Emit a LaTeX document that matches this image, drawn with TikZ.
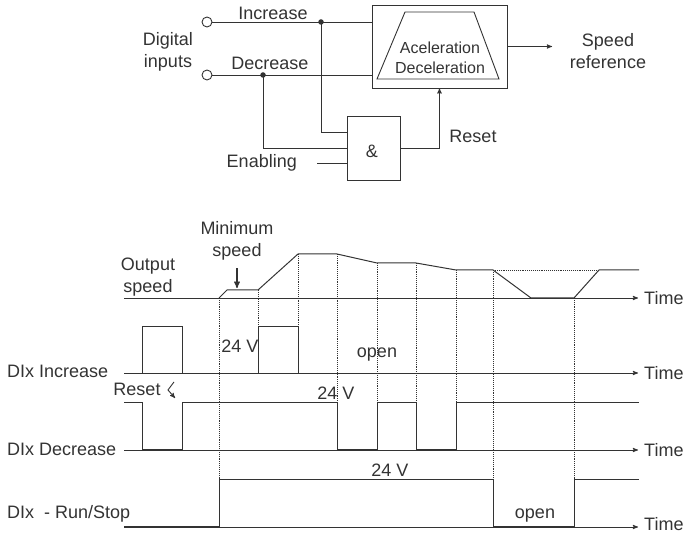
\documentclass[tikz,border=0pt]{standalone}
\usepackage{fontspec}
\setmainfont{Liberation Sans}
\usepackage{xcolor}
\usepackage{tikz}
\usetikzlibrary{arrows}
\usetikzlibrary{shapes.geometric}
\usetikzlibrary{positioning}
\definecolor{ink}{gray}{0.2}
\tikzset{
    lbl/.style = {align=center, inner sep=0pt, text=ink, font=\fontsize{18}{21.5}\selectfont},
    smalllbl/.style = {lbl, font=\fontsize{16}{20}\selectfont},
    port/.style = {circle, draw=ink, fill=white, minimum size=10pt, inner sep=0pt, line width=0.9pt},
    block/.style = {rectangle, draw=ink, inner sep=0pt, line width=0.9pt},
    jdot/.style = {circle, fill=ink, minimum size=5.5pt, inner sep=0pt}
}
\tikzset{
    wire/.style = {draw=ink, line width=0.9pt},
    timeaxis/.style = {wire, ->},
    wave/.style = {draw=ink, line width=1pt},
    guide/.style = {draw=ink, densely dotted, line width=0.9pt}
}
\begin{document}
\begin{tikzpicture}[x=1pt, y=-1pt, >=stealth']
\useasboundingbox (0,0) rectangle (689,534);
% block diagram
\node [port] (inc) at (207,22) {};
\node [port] (dec) at (207,75) {};
\node [lbl] (digital) at (168,52) {Digital\\inputs};
\node [lbl] (inclbl) at (273,13) {Increase};
\node [lbl] (declbl) at (270,63) {Decrease};
\node [block, minimum width=135pt, minimum height=83pt] (ramp) at (439.5,46.5) {};
\draw [wire] (377,79) -- (405,12) -- (474,12) -- (499,79) -- cycle;
\node [smalllbl] (ramptxt) at (440,58) {Aceleration\\Deceleration};
\node [block, minimum width=53pt, minimum height=64pt] (gate) at (373.5,148) {};
\node [lbl] (andlbl) at (372,151) {\&};
\coordinate (incj) at (321,22);
\coordinate (decj) at (263,75);
\coordinate (enin) at (317,163);
\coordinate (spdin) at (552,46.5);
\node [jdot] at (incj) {};
\node [jdot] at (decj) {};
\draw [wire] (inc.east) -- (inc.east -| ramp.west);
\draw [wire] (dec.east) -- (dec.east -| ramp.west);
\draw [wire] (incj) |- ([yshift=16pt]gate.west);
\draw [wire] (decj) |- (gate.west);
\draw [wire] (enin) -- (gate.west |- enin);
\node [lbl, left=20pt of enin] (enable) {Enabling};
\draw [wire, ->] (gate.east) -| (ramp.south);
\node [lbl] (rstlbl) at (473,136) {Reset};
\draw [wire, ->] (ramp.east) -- (spdin);
\node [lbl] (spdref) at (608,51) {Speed\\reference};
% timing diagram
\foreach \y/\n/\s in {298/spd/0, 373/inc/0, 450/dec/0, 527/run/3} {
    \coordinate (ax\n) at (124,\y);
    \coordinate (tip\n) at (638,\y);
    \draw [timeaxis] (ax\n) -- (tip\n);
    \node [lbl, right=6pt of tip\n, yshift=\s pt] (time\n) {Time};
}
\foreach \x/\a/\b in {219/298/480, 258/290/327, 298/254/327, 337/254/403, 377/263/403, 416/263/403, 456/270/403, 493/270/480, 574/298/480}
    \draw [guide] (\x,\a) -- (\x,\b);
\draw [guide] (493,270) -- (599,270);
\draw [wave] (219,298) -- (227,290) -- (258,290) -- (298,254) -- (337,254) -- (377,263) -- (416,263) -- (456,270) -- (493,270) -- (531,298) -- (574,298) -- (599,270) -- (639,270);
\draw [wave] (142,373) |- (182,327) -- (182,373);
\draw [wave] (258,373) |- (298,327) -- (298,373);
\draw [wave] (124,403) -| (142,450) -| (182,403) -| (337,450) -| (377,403) -| (416,450) -| (456,403) -- (639,403);
\draw [wave] (124,527) -| (219,480) -| (493,527) -| (574,480) -- (639,480);
\node [lbl] (outspd) at (148,277) {Output\\speed};
\node [lbl] (minspd) at (237,241) {Minimum\\speed};
\coordinate (minpt) at (237,288);
\draw [wire, ->, line width=1.3pt] ([yshift=-8pt]minspd.south) -- (minpt);
\node [lbl, anchor=west] (dinc) at (7,371) {DIx Increase};
\node [lbl, anchor=west] (ddec) at (7,449) {DIx Decrease};
\node [lbl, anchor=west] (drun) at (7,514) {DIx\ \ - Run/Stop};
\node [lbl] (rstsig) at (137,389) {Reset};
\draw [wire, ->] (174,382) -- (168,390) -- (175,398);
\node [lbl] (v1) at (240,346) {24 V};
\node [lbl] (v2) at (336,393) {24 V};
\node [lbl] (v3) at (390,470) {24 V};
\node [lbl] (open1) at (377,355) {open};
\node [lbl] (open2) at (535,516) {open};
\end{tikzpicture}
\end{document}
